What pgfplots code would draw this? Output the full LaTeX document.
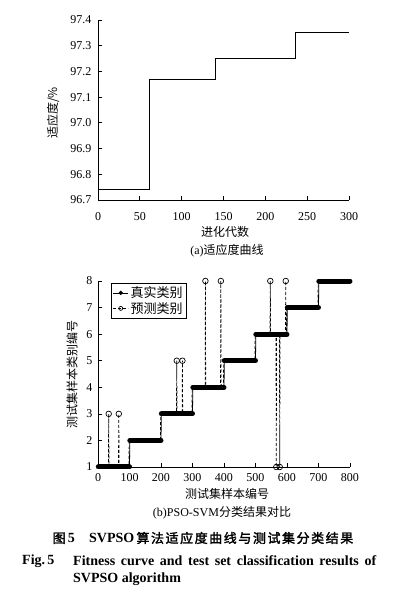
\documentclass[border=0pt]{standalone}
\usepackage{fontspec}
\setmainfont{Liberation Serif}
\newfontfamily\cjk{Noto Sans CJK SC}
\newfontfamily\cjkb[FakeBold=2,LetterSpace=12]{Noto Sans CJK SC}
\usepackage{pgfplots}
\usepackage{pgfplotstable}
\pgfplotsset{compat=1.18}

\pgfplotstableread{
x y
0 96.74
62 96.74
62 97.17
140 97.17
140 97.25
236 97.25
236 97.35
300 97.35
}\fitness

\pgfplotstableread{
x y
1 1
100 1
101 2
200 2
201 3
300 3
301 4
400 4
401 5
500 5
501 6
600 6
601 7
700 7
701 8
800 8
}\truecls

\pgfplotstableread{
x y
1 1
100 1
nan nan
101 2
200 2
nan nan
201 3
300 3
nan nan
301 4
400 4
nan nan
401 5
500 5
nan nan
501 6
600 6
nan nan
601 7
700 7
nan nan
701 8
800 8
}\trueplat

\pgfplotstableread{
x y
1 1
33 1
34 3
35 1
65 1
66 3
67 1
98 1
99 2
198 2
199 3
249 3
250 5
251 3
267 3
268 5
269 3
298 3
299 4
340 4
341 8
342 4
389 4
390 8
391 4
398 4
399 5
498 5
499 6
546 6
547 8
548 6
565 6
566 1
567 6
576 6
577 1
578 6
595 6
596 8
597 6
598 6
599 7
698 7
699 8
800 8
}\predcls

\pgfplotstableread{
x y
34 3
66 3
250 5
268 5
341 8
390 8
547 8
566 1
577 1
596 8
}\wrong

\begin{document}
\begin{tikzpicture}[font=\fontsize{12}{14}\selectfont]
\path[use as bounding box] (0,0) rectangle (394pt,596pt);
\pgfplotsset{
  myaxis/.style={
    scale only axis,
    axis x line*=bottom, axis y line*=left,
    axis line style={-, line width=0.7pt},
    tick align=inside, major tick length=4pt,
    tick style={black, line width=0.7pt},
    /pgf/number format/assume math mode=true,
    clip=false,
  }
}
% (a) fitness curve
\begin{axis}[myaxis,
  at={(98pt,396pt)}, anchor=south west,
  width=251pt, height=180pt,
  xmin=0, xmax=300, ymin=96.7, ymax=97.4,
  xtick={0,50,100,150,200,250,300},
  ytick={96.7,96.8,96.9,97.0,97.1,97.2,97.3,97.4},
  yticklabel style={xshift=-3pt, /pgf/number format/.cd,fixed,fixed zerofill,precision=1},
  xticklabel style={yshift=-9pt},
]
\addplot[black, line width=0.8pt] table[x=x,y=y] {\fitness};
\end{axis}
% (b) classification
\begin{axis}[myaxis,
  at={(98pt,129pt)}, anchor=south west,
  width=252pt, height=186pt,
  xmin=0, xmax=800, ymin=1, ymax=8,
  xtick={0,100,...,800},
  ytick={1,2,3,4,5,6,7,8},
  yticklabel style={xshift=-2pt},
  xticklabel style={yshift=-3pt},
  unbounded coords=jump,
  legend style={at={(0.052,0.99)}, anchor=north west, draw=black, line width=0.6pt,
    font=\cjk\fontsize{13}{15}\selectfont, inner sep=1.5pt, row sep=-1pt,
    legend cell align=left},
  legend image code/.code={
    \draw[#1] (0pt,0pt) -- (15pt,0pt);
    \draw[#1, solid] plot coordinates {(7.5pt,0pt)};
  },
]
\addlegendimage{black, line width=0.7pt, mark=*, mark size=1.7pt}
\addlegendentry{真实类别}
\addlegendimage{black, line width=0.7pt, dash pattern=on 3pt off 2pt, mark=o, mark size=2pt, mark options={solid, fill=white}}
\addlegendentry{预测类别}
\addplot[forget plot, black, line width=0.7pt, dash pattern=on 3pt off 2pt] table[x=x,y=y] {\predcls};
\addplot[forget plot, black, line width=0.8pt] table[x=x,y=y] {\truecls};
\addplot[forget plot, black, line width=5pt, line cap=round] table[x=x,y=y] {\trueplat};
\addplot[forget plot, only marks, mark=o, mark size=2.8pt, mark options={black, fill=white, line width=0.7pt}] table[x=x,y=y] {\wrong};
\end{axis}
% labels
\node[rotate=90] at (53pt,483pt) {\cjk 适应度/\%};
\node at (225pt,364pt) {\cjk 进化代数};
\node at (227pt,345pt) {(a)\cjk 适应度曲线};
\node[rotate=90] at (72pt,221pt) {\cjk 测试集样本类别编号};
\node at (227pt,102pt) {\cjk 测试集样本编号};
\node at (222pt,83pt) {(b)PSO-SVM\cjk 分类结果对比};
\node at (203pt,58pt) {\fontsize{13}{15}\selectfont{\cjkb 图}\,{\rmfamily\bfseries\fontsize{14}{16}\selectfont 5}\hspace{1.1em}{\rmfamily\bfseries\fontsize{14}{16}\selectfont SVPSO}\,{\cjkb 算法适应度曲线与测试集分类结果}};
\node[anchor=west, inner sep=0pt] at (22pt,35pt) {\fontsize{14}{16}\selectfont\bfseries Fig.\,5};
\node[anchor=west, inner sep=0pt] at (73pt,35pt) {\fontsize{14}{16}\selectfont\bfseries\makebox[303pt][s]{Fitness curve and test set classification results of}};
\node[anchor=west, inner sep=0pt] at (73pt,17pt) {\fontsize{14}{16}\selectfont\bfseries SVPSO algorithm};
\end{tikzpicture}
\end{document}
